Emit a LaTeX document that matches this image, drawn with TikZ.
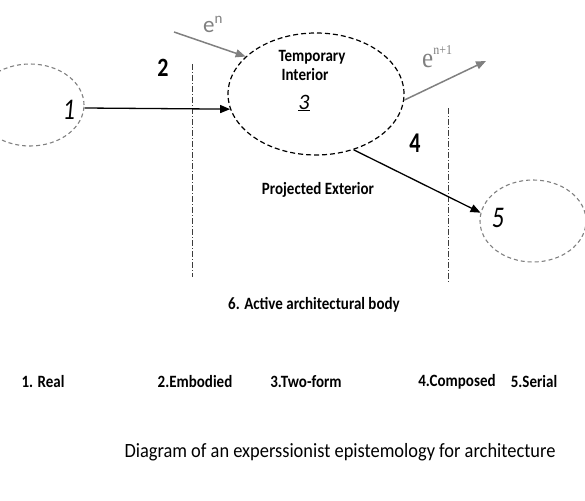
\documentclass[tikz,border=0pt]{standalone}
\usepackage{fontspec}
\setmainfont{Carlito}
\newfontfamily\serifnum{Liberation Serif}
\usetikzlibrary{shapes.geometric,arrows.meta}
\definecolor{lgray}{RGB}{128,128,128}
\definecolor{dgray}{RGB}{60,60,60}
\newcommand{\stretchtxt}[2]{\scalebox{1}[#1]{#2}}
\tikzset{
  x=1pt,y=-1pt,
  ring/.style={ellipse,draw,line width=1.1pt,inner sep=0pt},
  grayring/.style={ring,draw=lgray,dash pattern=on 4pt off 3pt},
  blackring/.style={ring,draw=black,line width=1.2pt,dash pattern=on 5pt off 3pt},
  divider/.style={draw=dgray,line width=1pt,dash pattern=on 6pt off 2pt on 1pt off 2pt},
  flow/.style={draw=black,line width=1.3pt,-{Triangle[length=10pt,width=8pt]}},
  grayflow/.style={draw=lgray,line width=1.5pt,-{Triangle[length=10pt,width=8pt]}},
  lab/.style={font=\fontsize{15}{17}\selectfont\bfseries,inner sep=0pt},
  bignum/.style={font=\fontsize{22}{24}\selectfont\bfseries,inner sep=0pt},
  itnum/.style={font=\fontsize{24}{26}\selectfont\itshape,inner sep=0pt},
}
\begin{document}
\begin{tikzpicture}
\useasboundingbox (0,0) rectangle (585,500);
% ellipses
\node[grayring,minimum width=108pt,minimum height=82pt] (e1) at (30,105) {};
\node[blackring,minimum width=176pt,minimum height=122pt] (e3) at (316,94) {};
\node[grayring,minimum width=106pt,minimum height=82pt] (e5) at (533,221) {};
% dividers
\coordinate (d2a) at (192,64);
\coordinate (d2b) at (192,277);
\coordinate (d4a) at (448,108);
\coordinate (d4b) at (448,283);
\draw[divider] (d2a) -- (d2b);
\draw[divider] (d4a) -- (d4b);
% arrows
\draw[flow] (e1.east |- 0,108) -- (e3.190);
\draw[flow] (e3.304) -- (e5.171);
\coordinate (en) at (174,32);
\coordinate (en1) at (486,61);
\draw[grayflow] (en) -- (e3.152);
\draw[grayflow] (e3.356) -- (en1);
% labels
\node[text=lgray,font=\fontsize{23}{25}\selectfont,inner sep=0pt,anchor=base west] (len) at (203,33) {e\raisebox{9pt}{\fontsize{15}{15}\selectfont n}};
\node[text=lgray,font=\serifnum\fontsize{25}{27}\selectfont,inner sep=0pt,anchor=base west] (len1) at (422,68) {\stretchtxt{1.13}{e\raisebox{12pt}{\fontsize{12}{12}\selectfont n+1}}};
\node[bignum] (n2) at (163,68) {\stretchtxt{1.2}{2}};
\node[bignum] (n4) at (415,143) {\stretchtxt{1.3}{4}};
\node[itnum] (n1) at (69,110) {\stretchtxt{1.25}{1}};
\node[itnum] (n5) at (498,218) {\stretchtxt{1.25}{5}};
\node[lab] (tmp) at (312,57) {\stretchtxt{1.15}{Temporary}};
\node[lab] (int) at (305,75) {\stretchtxt{1.15}{Interior}};
\node[font=\fontsize{22}{24}\selectfont\itshape,inner sep=0pt] (n3) at (304,103) {\underline{3}};
\node[lab] (proj) at (318,190) {\stretchtxt{1.15}{Projected Exterior}};
\node[lab] (act) at (314,305) {\stretchtxt{1.15}{6. Active architectural body}};
\node[lab] (b1) at (43,382) {\stretchtxt{1.15}{1. Real}};
\node[lab] (b2) at (195,382) {\stretchtxt{1.15}{2.Embodied}};
\node[lab] (b3) at (306,382) {\stretchtxt{1.15}{3.Two-form}};
\node[lab] (b4) at (457,382) {\stretchtxt{1.15}{4.Composed}};
\node[lab] (b5) at (534,382) {\stretchtxt{1.15}{5.Serial}};
\node[font=\fontsize{18.4}{20}\selectfont,inner sep=0pt] (cap) at (340,452) {\stretchtxt{1.1}{Diagram of an experssionist epistemology for architecture}};
\end{tikzpicture}
\end{document}
